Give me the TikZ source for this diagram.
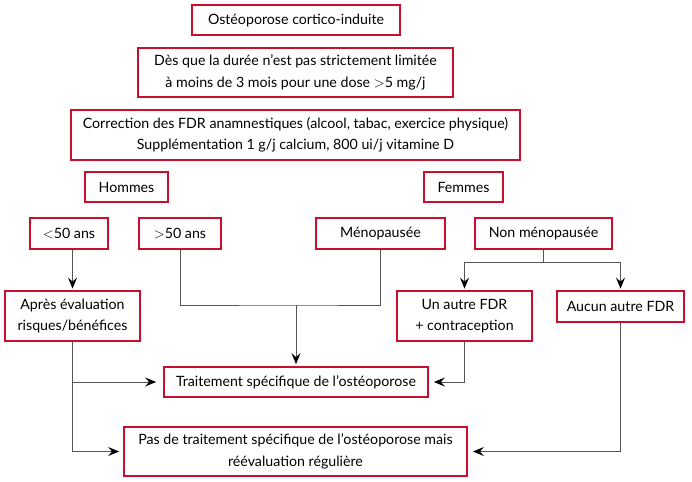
\documentclass[tikz,border=0pt]{standalone}
\usepackage{fontspec}
\setmainfont{Lato}
\usetikzlibrary{arrows.meta,calc}
\definecolor{boxred}{RGB}{200,16,46}
\definecolor{linegray}{RGB}{85,85,85}
\begin{document}
\begin{tikzpicture}[x=1pt,y=-1pt,
  bx/.style={draw=boxred,line width=1.8pt,inner sep=0pt,align=center,font=\fontsize{14.2}{21.5}\selectfont},
  conn/.style={draw=linegray,line width=1pt},
  arr/.style={conn,-{Stealth[length=11pt,width=9pt,inset=4pt,color=black]}}]
\useasboundingbox (0,0) rectangle (692,481);
\node[bx,minimum width=208pt,minimum height=30pt] (b1) at (296,20) {Ostéoporose cortico-induite};
\node[bx,minimum width=315pt,minimum height=49pt] (b2) at (295.5,72.5) {Dès que la durée n’est pas strictement limitée\\à moins de 3 mois pour une dose $>$5 mg/j};
\node[bx,minimum width=449pt,minimum height=50pt] (b3) at (295.5,135) {Correction des FDR anamnestiques (alcool, tabac, exercice physique)\\Supplémentation 1 g/j calcium, 800 ui/j vitamine D};
\node[bx,minimum width=83pt,minimum height=30pt] (hom) at (126.5,187) {Hommes};
\node[bx,minimum width=79pt,minimum height=30pt] (fem) at (463.5,187) {Femmes};
\node[bx,minimum width=78pt,minimum height=31pt] (lt) at (69,233.5) {$<$50 ans};
\node[bx,minimum width=82pt,minimum height=31pt] (gt) at (180,233.5) {$>$50 ans};
\node[bx,minimum width=129pt,minimum height=31pt] (meno) at (380.5,233.5) {Ménopausée};
\node[bx,minimum width=137pt,minimum height=31pt] (non) at (543.5,233.5) {Non ménopausée};
\node[bx,minimum width=135pt,minimum height=50pt] (apres) at (72.5,316) {Après évaluation\\risques/bénéfices};
\node[bx,minimum width=135pt,minimum height=50pt] (un) at (464.5,316) {Un autre FDR\\+ contraception};
\node[bx,minimum width=127pt,minimum height=31pt] (auc) at (620.5,306.5) {Aucun autre FDR};
\node[bx,minimum width=264pt,minimum height=30pt] (trait) at (296,382) {Traitement spécifique de l’ostéoporose};
\node[bx,minimum width=343pt,minimum height=49pt] (pas) at (295.5,451.5) {Pas de traitement spécifique de l’ostéoporose mais\\réévaluation régulière};
% connectors
\coordinate (j1) at (296,305);
\coordinate (j2) at (543.5,262);
\draw[arr,shorten >=1.5pt] (lt.south -| apres.north) -- (apres.north);
\draw[conn] (gt.south) |- (j1) -| (meno.south);
\draw[arr,shorten >=2pt] (j1) -- (trait.north);
\draw[conn] (non.south) -- (j2);
\draw[arr,shorten >=1.5pt] (j2) -| (un.north);
\draw[arr,shorten >=1.5pt] (j2) -| (auc.north);
\draw[arr,shorten >=5pt] (un.south) |- (trait.east);
\draw[arr,shorten >=5pt] (auc.south) |- (pas.east);
\draw[arr,shorten >=4pt] (apres.south) |- (pas.west);
\draw[arr,shorten >=7pt] (apres.south |- trait.west) -- (trait.west);
\end{tikzpicture}
\end{document}
